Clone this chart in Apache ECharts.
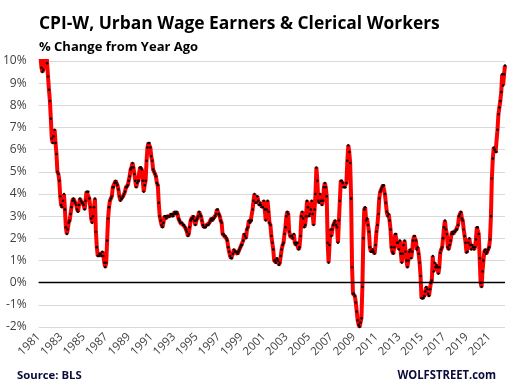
<!DOCTYPE html>
<html><head><meta charset="utf-8">
<script src="https://cdn.jsdelivr.net/npm/echarts@6/dist/echarts.min.js"></script>
<style>html,body{margin:0;padding:0;background:#fff}#c{width:510px;height:391px}</style>
</head><body><div id="c"></div>
<script>
// CPI-W, % change from year ago, monthly, Jan 1981 – Jun 2022
const cpi1981_1989 = [
  11.5, 11.0, 10.2, 9.7, 9.5, 9.6, 10.7, 10.8, 10.9, 9.9, 9.3, 8.7,
  8.2, 7.4, 6.5, 6.3, 6.6, 6.9, 6.3, 5.8, 5.0, 4.9, 4.6, 3.9,
  3.5, 3.4, 3.7, 4.0, 3.3, 2.5, 2.2, 2.4, 2.7, 2.8, 3.1, 3.4,
  3.7, 3.8, 3.7, 3.6, 3.5, 3.3, 3.2, 3.5, 3.8, 3.7, 3.6, 3.6,
  3.5, 3.3, 3.7, 4.1, 4.1, 4.1, 3.8, 3.4, 2.9, 2.7, 3.0, 3.4,
  3.8, 2.3, 1.6, 1.2, 1.2, 1.3, 1.3, 1.2, 1.4, 1.2, 0.9, 0.7,
  0.9, 1.9, 2.9, 3.4, 3.7, 3.8, 3.9, 4.3, 4.3, 4.5, 4.6, 4.5,
  4.4, 4.2, 3.9, 3.7, 3.8, 3.8, 3.9, 4.0, 4.1, 4.3, 4.3, 4.4,
  4.6, 4.8, 5.1, 5.2, 5.4, 5.2, 4.9, 4.6, 4.3, 4.5, 4.6, 4.6
];
const cpi1990_1999 = [
  5.2, 5.2, 5.1, 4.6, 4.1, 4.4, 4.6, 5.5, 6.1, 6.3, 6.3, 6.1,
  5.7, 5.5, 5.1, 5.0, 4.9, 4.8, 4.5, 4.4, 3.6, 3.0, 2.8, 2.6,
  2.5, 2.7, 3.0, 3.0, 2.9, 3.0, 3.0, 3.0, 3.0, 3.1, 3.1, 3.0,
  3.1, 3.2, 3.1, 3.2, 3.1, 2.9, 2.8, 2.7, 2.7, 2.7, 2.6, 2.6,
  2.5, 2.4, 2.3, 2.1, 2.2, 2.5, 2.8, 2.9, 2.9, 3.0, 2.8, 2.6,
  2.8, 2.9, 3.0, 3.2, 3.1, 3.0, 2.8, 2.6, 2.5, 2.5, 2.5, 2.6,
  2.6, 2.6, 2.7, 2.8, 2.9, 2.8, 2.9, 2.9, 3.0, 3.1, 3.3, 3.3,
  3.1, 3.0, 2.8, 2.7, 2.2, 2.2, 2.1, 2.1, 2.0, 1.9, 1.6, 1.4,
  1.2, 1.1, 1.1, 1.3, 1.5, 1.4, 1.4, 1.4, 1.3, 1.4, 1.5, 1.6,
  1.7, 1.7, 1.9, 2.2, 2.1, 2.0, 2.4, 2.5, 2.8, 2.7, 2.8, 2.8
];
const cpi2000_2009 = [
  3.3, 3.7, 4.0, 3.6, 3.6, 3.9, 3.7, 3.5, 3.6, 3.5, 3.4, 3.4,
  3.7, 3.3, 2.8, 3.3, 3.7, 3.2, 2.7, 2.6, 2.1, 1.8, 1.5, 1.0,
  1.0, 0.9, 1.1, 1.0, 0.8, 0.9, 1.2, 1.5, 1.7, 1.8, 2.2, 2.5,
  3.0, 3.2, 3.1, 2.3, 2.1, 2.1, 2.1, 2.0, 2.2, 1.8, 1.7, 1.8,
  1.8, 1.5, 1.6, 2.1, 3.0, 3.2, 2.9, 2.5, 2.6, 3.0, 3.7, 3.4,
  3.0, 3.1, 3.3, 3.7, 3.1, 2.6, 3.3, 4.0, 5.2, 4.6, 3.7, 3.6,
  4.0, 3.7, 3.5, 3.7, 4.3, 4.5, 4.3, 3.9, 1.8, 0.9, 1.7, 2.4,
  2.1, 2.4, 2.6, 2.7, 2.8, 2.6, 2.5, 1.8, 2.8, 3.7, 4.6, 4.6,
  4.5, 4.3, 4.3, 4.3, 4.5, 5.5, 6.2, 5.9, 5.4, 3.8, 0.7, -0.5,
  -0.5, -0.6, -0.9, -1.3, -1.7, -1.9, -2.0, -1.8, -1.6, -0.2, 2.0, 3.3
];
const cpi2010_2019 = [
  3.4, 2.8, 2.9, 2.6, 2.3, 1.6, 1.4, 1.4, 1.5, 1.4, 1.3, 1.7,
  2.3, 2.6, 3.1, 3.8, 4.1, 4.2, 4.3, 4.4, 4.4, 4.0, 3.6, 3.2,
  3.0, 3.1, 2.8, 2.4, 1.6, 1.4, 1.3, 1.6, 2.2, 2.2, 1.8, 1.8,
  1.5, 1.9, 1.3, 0.9, 1.3, 1.7, 1.9, 1.4, 1.0, 0.7, 1.0, 1.4,
  1.5, 1.1, 1.4, 1.9, 2.1, 2.1, 1.9, 1.5, 1.6, 1.3, 0.9, 0.3,
  -0.7, -0.7, -0.7, -0.6, -0.4, -0.2, -0.3, -0.5, -0.6, -0.3, 0.0, 0.1,
  1.2, 0.5, 0.9, 0.7, 0.8, 0.7, 0.4, 0.7, 1.35, 1.5, 1.6, 2.0,
  2.5, 2.8, 2.4, 2.2, 1.6, 1.5, 1.7, 1.9, 2.2, 2.3, 2.2, 2.3,
  2.3, 2.4, 2.4, 2.6, 3.0, 3.1, 3.2, 2.9, 2.8, 2.4, 2.1, 1.8,
  1.35, 1.4, 1.8, 2.0, 1.7, 1.5, 1.7, 1.6, 1.5, 1.6, 1.95, 2.5
];
const cpi2020_2022 = [
  2.5, 2.2, 1.1, 0.0, -0.2, 0.5, 1.0, 1.4, 1.5, 1.3, 1.4, 1.5,
  1.6, 1.95, 3.0, 4.7, 5.6, 6.1, 6.0, 5.9, 5.9, 6.9, 7.6, 7.9,
  8.2, 8.6, 9.4, 8.9, 9.4, 9.8
];
const startYear = 1981, endYear = 2022, endMonth = 6;
const tickYears = ['1981','1983','1985','1987','1989','1991','1993','1995','1997','1999',
  '2001','2003','2005','2007','2009','2011','2013','2015','2017','2019','2021'];
const yTicks = { min: -2, max: 10, step: 1 };

const values = [].concat(cpi1981_1989, cpi1990_1999, cpi2000_2009, cpi2010_2019, cpi2020_2022);
const months = [];
for (let y = startYear; y <= endYear; y++) {
  for (let m = 1; m <= 12; m++) {
    if (y === endYear && m > endMonth) break;
    months.push(y + '-' + (m < 10 ? '0' + m : m));
  }
}

const chart = echarts.init(document.getElementById('c'), null, { renderer: 'canvas' });
const FONT = '"Open Sans", "Noto Sans", sans-serif';
chart.setOption({
  animation: false,
  backgroundColor: '#fff',
  title: [
    { text: 'CPI-W, Urban Wage Earners & Clerical Workers', left: 34, top: 11,
      textStyle: { fontFamily: FONT, fontWeight: 'bold', fontSize: 17.4, color: '#000' } },
    { text: '% Change from Year Ago', left: 34, top: 36,
      textStyle: { fontFamily: FONT, fontWeight: 'bold', fontSize: 13, color: '#000' } }
  ],
  graphic: [
    { type: 'text', x: 17, y: 376, silent: true,
      style: { text: 'Source: BLS', font: 'bold 11.3px "Open Sans", sans-serif', fill: '#0a0a3c',
        align: 'left', verticalAlign: 'middle' } },
    { type: 'text', x: 496, y: 375, scaleX: 0.9, silent: true,
      style: { text: 'WOLFSTREET.com', font: 'bold 12.5px "Open Sans", sans-serif', fill: '#0a0a3c',
        align: 'right', verticalAlign: 'middle' } }
  ],
  grid: { left: 35, right: 5, top: 61, bottom: 64, containLabel: false },
  xAxis: {
    type: 'category', data: months, boundaryGap: false,
    axisLine: { show: false }, axisTick: { show: false }, splitLine: { show: false },
    axisLabel: {
      interval: (i, v) => v.slice(5) === '01' && tickYears.includes(v.slice(0, 4)),
      formatter: v => v.slice(0, 4),
      rotate: 45, margin: 8,
      fontFamily: FONT, fontSize: 11.5, color: '#404040'
    }
  },
  yAxis: {
    type: 'value', min: yTicks.min, max: yTicks.max, interval: yTicks.step,
    axisLine: { show: false }, axisTick: { show: false },
    splitLine: { lineStyle: { color: '#d9d9d9', width: 1 } },
    axisLabel: { formatter: '{value}%', margin: 12, fontFamily: FONT, fontSize: 12, color: '#404040' }
  },
  series: [
    { type: 'line', data: [], z: 1, silent: true,
      markLine: { silent: true, symbol: ['none', 'none'], label: { show: false },
        lineStyle: { color: '#000', width: 1.3, type: 'solid' }, data: [{ yAxis: 0 }] } },
    { type: 'line', data: values, z: 3, clip: true,
      symbol: 'circle', symbolSize: 2.5, showAllSymbol: true,
      itemStyle: { color: '#000', borderWidth: 0 },
      lineStyle: { color: '#ff0000', width: 4 } }
  ]
});
</script></body></html>
